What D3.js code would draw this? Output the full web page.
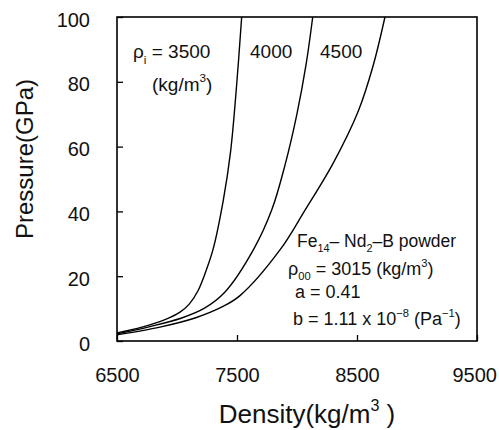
<!DOCTYPE html>
<html>
<head>
<meta charset="utf-8">
<script src="https://cdn.jsdelivr.net/npm/d3@7"></script>
<style>
  html, body { margin: 0; padding: 0; background: #fff; }
  svg { display: block; font-family: "Liberation Sans", Arial, sans-serif; }
</style>
</head>
<body>
<svg id="chart" width="499" height="430"></svg>
<script>
// ---- data ----
const densityTicks = [6500, 7500, 8500, 9500];
const pressureTicks = [0, 20, 40, 60, 80, 100];
const seriesLabels = ["3500", "4000", "4500"];

const density3500  = [6500, 6708, 6900, 7025, 7100, 7175, 7250, 7302, 7386, 7446, 7497, 7539];
const pressure3500 = [2.5, 4.3, 6.6, 8.9, 11.3, 15.5, 22.5, 28.5, 43.5, 58.3, 79.0, 100];

const density4000  = [6500, 6758, 7039, 7233, 7400, 7636, 7789, 7900, 7998, 8075, 8131];
const pressure4000 = [2.2, 4.3, 7.1, 10.2, 15.1, 28.1, 40.4, 54.3, 69.8, 85.2, 100];

const density4500  = [6500, 6858, 7150, 7375, 7525, 7858, 8067, 8303, 8511, 8636, 8733];
const pressure4500 = [1.9, 4.3, 7.1, 10.5, 14.0, 28.1, 40.4, 55.0, 71.0, 85.2, 100];

// ---- layout ----
const svg = d3.select("#chart");
const L = 117, R = 477, T = 17, B = 341;

const x = d3.scaleLinear().domain([6500, 9500]).range([L, R]);
const y = d3.scaleLinear().domain([0, 100]).range([B, T]);

// axes
const xAxis = d3.axisBottom(x).tickValues(densityTicks).tickFormat(d3.format("d"))
  .tickSizeInner(-6).tickSizeOuter(0).tickPadding(27);
const yAxis = d3.axisLeft(y).tickValues(pressureTicks).tickFormat(d3.format("d"))
  .tickSizeInner(-6).tickSizeOuter(0).tickPadding(27);

const gx = svg.append("g").attr("transform", `translate(0,${B})`).call(xAxis);
const gy = svg.append("g").attr("transform", `translate(${L},0)`).call(yAxis);
[gx, gy].forEach(g => {
  g.select(".domain").remove();
  g.selectAll("line").attr("stroke", "#000").attr("stroke-width", 1.3);
  g.selectAll("text").attr("font-size", 20).attr("fill", "#111")
    .attr("font-family", "'Liberation Sans', Arial, sans-serif");
});
gy.selectAll("text").attr("dy", "0.45em");
// keep the x tick labels inside the picture
gx.selectAll("text").each(function () {
  const bb = this.getBBox();
  const ctm = this.getCTM();
  const right = ctm.e + bb.x + bb.width;
  if (right > 497) d3.select(this).attr("dx", 497 - right);
});

// frame
svg.append("rect")
  .attr("x", L).attr("y", T).attr("width", R - L).attr("height", B - T)
  .attr("fill", "none").attr("stroke", "#000").attr("stroke-width", 1.6);

// curves
const line = d3.line()
  .x(d => x(d[0])).y(d => y(d[1]))
  .curve(d3.curveCatmullRom.alpha(0.5));
const series = [
  [density3500, pressure3500],
  [density4000, pressure4000],
  [density4500, pressure4500]
];
svg.append("g").selectAll("path")
  .data(series)
  .join("path")
  .attr("d", s => line(s[0].map((d, i) => [d, s[1][i]])))
  .attr("fill", "none").attr("stroke", "#000").attr("stroke-width", 1.4);

// rich text helper
function rich(x0, y0, size, parts, anchor) {
  const t = svg.append("text").attr("x", x0).attr("y", y0)
    .attr("font-size", size).attr("fill", "#111")
    .attr("text-anchor", anchor || "start");
  let shift = 0;
  parts.forEach(p => {
    const [str, kind] = Array.isArray(p) ? p : [p, null];
    let target = 0;
    let fs = size;
    if (kind === "sub") { target = size * 0.3; fs = size * 0.62; }
    if (kind === "sup") { target = -size * 0.45; fs = size * 0.62; }
    t.append("tspan").attr("dy", target - shift).attr("font-size", fs).text(str);
    shift = target;
  });
  return t;
}

// annotations
rich(133, 58, 19, ["ρ", ["i", "sub"], " = " + seriesLabels[0]]);
rich(152, 91, 19, ["(kg/m", ["3", "sup"], ")"]);
rich(250, 58, 19, [seriesLabels[1]]);
rich(320, 58, 19, [seriesLabels[2]]);

rich(297, 247, 17.5, ["Fe", ["14", "sub"], "– Nd", ["2", "sub"], "–B powder"]);
rich(288, 275, 18, ["ρ", ["00", "sub"], " = 3015 (kg/m", ["3", "sup"], ")"]);
rich(295, 298, 18, ["a = 0.41"]);
rich(293, 325, 18, ["b = 1.11 x 10", ["−8", "sup"], " (Pa", ["−1", "sup"], ")"]);

// axis titles
svg.append("text")
  .attr("transform", "translate(33,159) rotate(-90)")
  .attr("text-anchor", "middle").attr("font-size", 24).attr("fill", "#111")
  .text("Pressure(GPa)");
rich(307, 423, 26, ["Density(kg/m", ["3", "sup"], " )"], "middle");
</script>
</body>
</html>
